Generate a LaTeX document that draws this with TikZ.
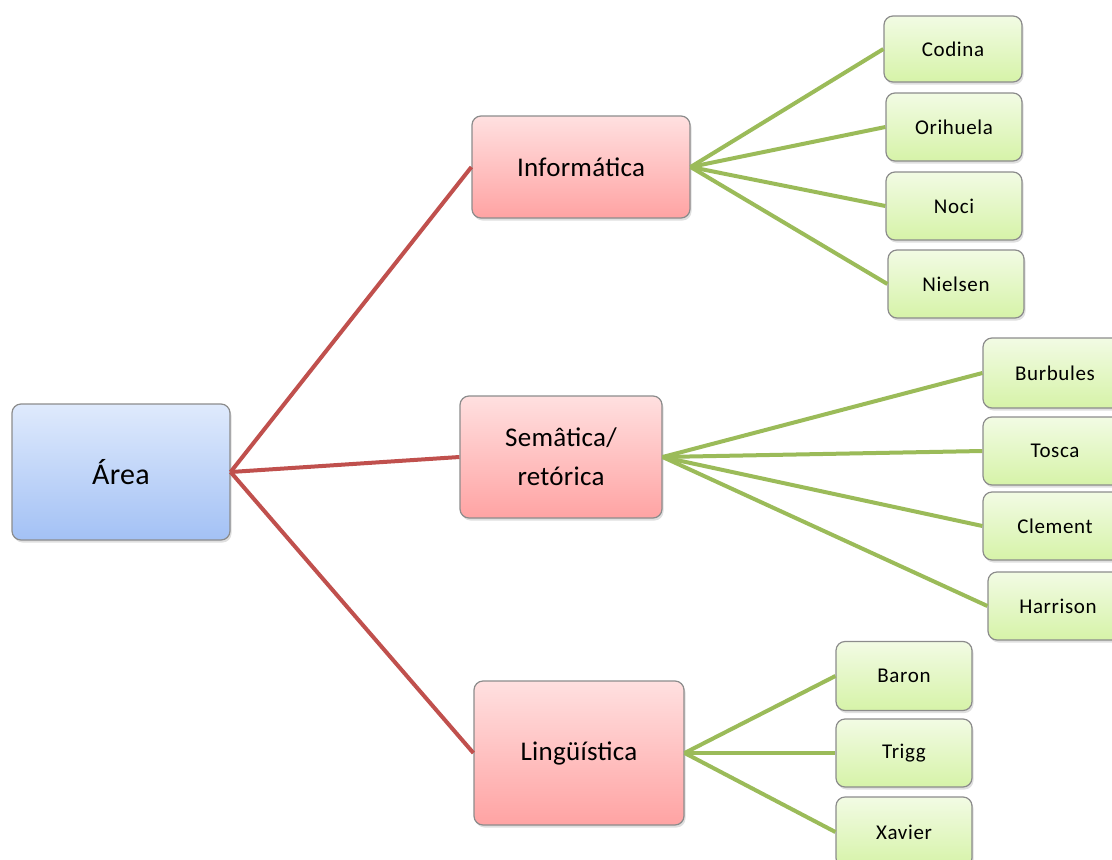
\documentclass[tikz,border=0pt]{standalone}
\usepackage{fontspec}
\setmainfont{Carlito}
\usetikzlibrary{shadows}
\definecolor{bordergrey}{HTML}{8C8C8C}
\definecolor{bluetop}{HTML}{DFEAFC}
\definecolor{bluebot}{HTML}{A3C1F5}
\definecolor{redtop}{HTML}{FFE0E0}
\definecolor{redbot}{HTML}{FFA3A3}
\definecolor{greentop}{HTML}{F2FBE4}
\definecolor{greenbot}{HTML}{D6F3A8}
\definecolor{redline}{HTML}{C0504D}
\definecolor{greenline}{HTML}{9BBB59}
\tikzset{
  box/.style={draw=bordergrey, line width=1.2pt, rounded corners=9pt, inner sep=0pt, align=center,
    drop shadow={opacity=0.25, shadow xshift=1.5pt, shadow yshift=-2.5pt}},
  rootbox/.style={box, top color=bluetop, bottom color=bluebot, minimum width=218pt, minimum height=136pt, font=\fontsize{30}{34}\selectfont\addfontfeatures{LetterSpace=1}},
  midbox/.style={box, top color=redtop, bottom color=redbot, font=\fontsize{27}{39}\selectfont\addfontfeatures{LetterSpace=1}},
  leafbox/.style={box, top color=greentop, bottom color=greenbot, minimum width=138pt, minimum height=68pt, font=\fontsize{21}{22}\selectfont\addfontfeatures{LetterSpace=3}},
  redlink/.style={draw=redline, line width=4pt},
  greenlink/.style={draw=greenline, line width=4pt},
}
\begin{document}
\begin{tikzpicture}[x=1pt,y=-1pt]
\useasboundingbox (0,0) rectangle (1112,860);
\clip (0,0) rectangle (1112,860);
\fill[white] (0,0) rectangle (1112,860);
% root
\node[rootbox] (area) at (121,472) {Área};
% middle
\node[midbox, minimum width=218pt, minimum height=102pt] (info) at (581,167) {Informática};
\node[midbox, minimum width=202pt, minimum height=122pt] (sema) at (561,457) {Semâtica/\\retórica};
\node[midbox, minimum width=210pt, minimum height=144pt] (ling) at (579,753) {Lingüística};
% leaves
\node[leafbox, minimum height=66pt] (codina) at (953,49) {Codina};
\node[leafbox, minimum width=136pt] (orihuela) at (954,127) {Orihuela};
\node[leafbox, minimum width=136pt] (noci) at (954,206) {Noci};
\node[leafbox, minimum width=136pt] (nielsen) at (956,284) {Nielsen};
\node[leafbox, minimum width=144pt, minimum height=70pt] (burbules) at (1055,373) {Burbules};
\node[leafbox, minimum width=144pt] (tosca) at (1055,451) {Tosca};
\node[leafbox, minimum width=144pt] (clement) at (1055,526) {Clement};
\node[leafbox, minimum width=140pt] (harrison) at (1058,606) {Harrison};
\node[leafbox, minimum width=136pt, minimum height=69pt] (baron) at (904,676) {Baron};
\node[leafbox, minimum width=136pt] (trigg) at (904,753) {Trigg};
\node[leafbox, minimum width=136pt, minimum height=70pt] (xavier) at (904,832) {Xavier};
% red links
\draw[redlink] (area.east) -- (info.west);
\draw[redlink] (area.east) -- (sema.west);
\draw[redlink] (area.east) -- (ling.west);
% green links
\foreach \c in {codina,orihuela,noci,nielsen} \draw[greenlink] (info.east) -- (\c.west);
\foreach \c in {burbules,tosca,clement,harrison} \draw[greenlink] (sema.east) -- (\c.west);
\foreach \c in {baron,trigg,xavier} \draw[greenlink] (ling.east) -- (\c.west);
\end{tikzpicture}
\end{document}
